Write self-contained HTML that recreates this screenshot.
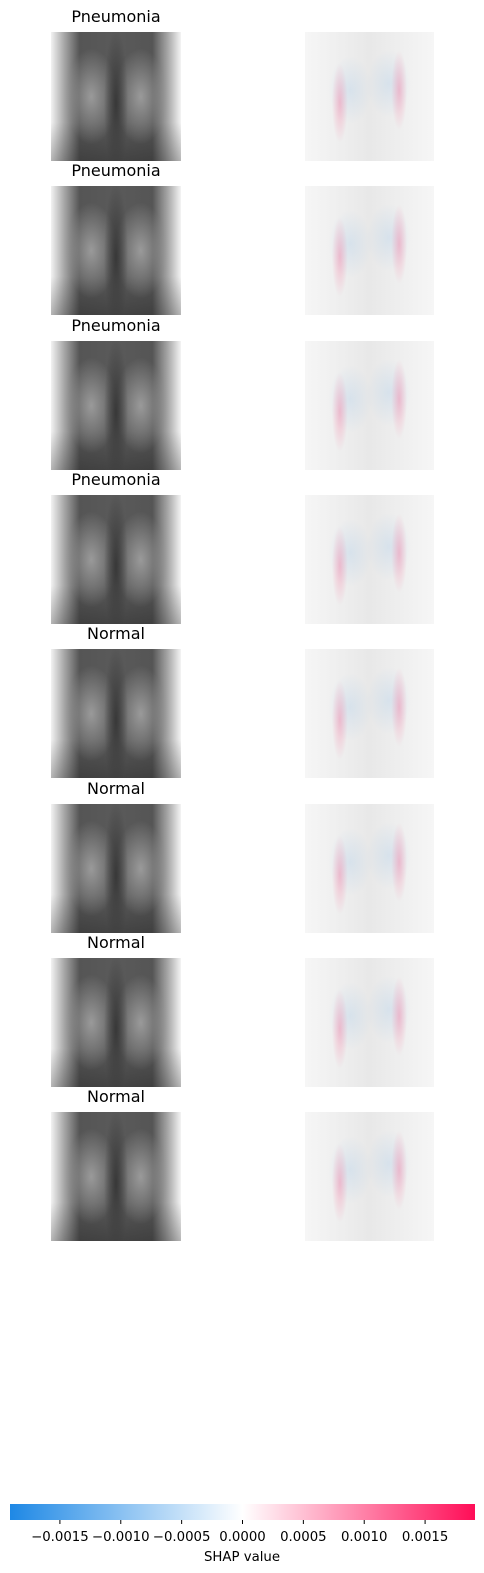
<!DOCTYPE html>
<html><head><meta charset="utf-8"><style>
body{margin:0;background:#fff;width:484px;height:1573px;position:relative;overflow:hidden;font-family:"DejaVu Sans","Liberation Sans",sans-serif}
.t{position:absolute;width:130px;text-align:center;font-size:16px;color:#000;left:51px}
.x{position:absolute;left:51px;width:130px;height:129px;overflow:hidden;
background:
radial-gradient(ellipse 12px 75px at 50% 55%,#383838,transparent),
radial-gradient(ellipse 26px 48px at 31% 50%,#9a9a9a,transparent),
radial-gradient(ellipse 26px 48px at 69% 50%,#9a9a9a,transparent),
linear-gradient(180deg,rgba(0,0,0,0) 70%,rgba(0,0,0,.25) 100%),
linear-gradient(90deg,#f2f2f2 0%,#a8a8a8 10%,#555 22%,#5a5a5a 50%,#555 78%,#a8a8a8 90%,#f4f4f4 100%)}
.s{position:absolute;left:305px;width:129px;height:129px;overflow:hidden;
background:
radial-gradient(ellipse 8px 40px at 27% 55%,rgba(255,13,87,.22),transparent),
radial-gradient(ellipse 8px 40px at 73% 45%,rgba(255,13,87,.22),transparent),
radial-gradient(ellipse 22px 34px at 35% 45%,rgba(30,136,229,.10),transparent),
radial-gradient(ellipse 22px 34px at 65% 40%,rgba(30,136,229,.10),transparent),
linear-gradient(90deg,#f6f6f6,#e8e8e8 50%,#f6f6f6)}
</style></head><body>
<div id="rows"></div>
<svg id="cb" width="484" height="1573" style="position:absolute;left:0;top:0">
<defs><linearGradient id="g" x1="0" x2="1"><stop offset="0" stop-color="#1E88E5"/><stop offset="0.5" stop-color="#ffffff"/><stop offset="1" stop-color="#FF0D57"/></linearGradient></defs>
</svg>
<script>
const titles=["Pneumonia","Pneumonia","Pneumonia","Pneumonia","Normal","Normal","Normal","Normal"];
const tickValues=[-0.0015,-0.0010,-0.0005,0,0.0005,0.0010,0.0015];
const tickLabels=["\u22120.0015","\u22120.0010","\u22120.0005","0.0000","0.0005","0.0010","0.0015"];
const vmin=-0.00191, vmax=0.00191;
const rows=document.getElementById('rows');
titles.forEach((t,i)=>{
  const top=32+i*154.3;
  const h=document.createElement('div');h.className='t';h.style.top=(top-25)+'px';h.textContent=t;
  
  
  const x=document.createElement('div');x.className='x';x.style.top=top+'px';
  
  
  const s=document.createElement('div');s.className='s';s.style.top=top+'px';
  
  
  rows.append(h,x,s);
});
const svg=document.getElementById('cb'),NS='http://www.w3.org/2000/svg';
const x0=10,x1=475,sx=v=>x0+(v-vmin)/(vmax-vmin)*(x1-x0);
const r=document.createElementNS(NS,'rect');
r.setAttribute('x',x0);r.setAttribute('y',1504);r.setAttribute('width',x1-x0);r.setAttribute('height',16);r.setAttribute('fill','url(#g)');


svg.appendChild(r);
tickValues.forEach((v,i)=>{
  const l=document.createElementNS(NS,'line');
  l.setAttribute('x1',sx(v));l.setAttribute('x2',sx(v));l.setAttribute('y1',1520);l.setAttribute('y2',1524);l.setAttribute('stroke','#000');
  
  
  svg.appendChild(l);
  const t=document.createElementNS(NS,'text');
  t.setAttribute('x',sx(v));t.setAttribute('y',1541);t.setAttribute('text-anchor','middle');t.setAttribute('font-size','13.3');
  t.textContent=tickLabels[i];
  
  
  svg.appendChild(t);
});
const lab=document.createElementNS(NS,'text');
lab.setAttribute('x',242);lab.setAttribute('y',1561);lab.setAttribute('text-anchor','middle');lab.setAttribute('font-size','13.3');lab.textContent='SHAP value';


svg.appendChild(lab);
</script>
</body></html>
